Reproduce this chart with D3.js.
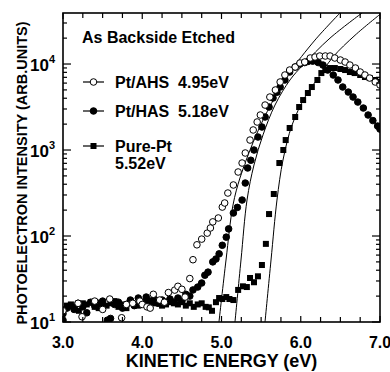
<!DOCTYPE html>
<html>
<head>
<meta charset="utf-8">
<script src="https://cdn.jsdelivr.net/npm/d3@7"></script>
<style>
  body { margin: 0; background: #fff; }
  svg { display: block; font-family: "Liberation Sans", Arial, sans-serif; }
  text { white-space: pre; }
</style>
</head>
<body>
<svg id="chart" width="390" height="372"></svg>
<script>
// measured points [energy eV, intensity]
const ahsPts = [[3.00,13.5],[3.19,16.5],[3.24,11.5],[3.40,17.5],[3.50,14],[3.59,18.5],[3.74,11.2],[3.80,16],[3.88,16.5],[3.97,17.5],[4.00,16],[4.06,15],[4.10,14.5],[4.14,21],[4.22,18],[4.28,17],[4.33,22],[4.41,23.5],[4.45,26],[4.50,24],[4.54,19.5],[4.60,32],[4.64,53],[4.69,79],[4.75,92],[4.82,108],[4.86,124],[4.89,146],[4.96,162],[5.01,217],[5.04,242],[5.08,316],[5.15,392],[5.21,555],[5.26,706],[5.30,923],[5.36,1306],[5.40,1710],[5.45,2117],[5.49,2553],[5.55,3334],[5.61,4130],[5.68,4985],[5.74,6180],[5.80,7450],[5.86,8510],[5.93,9230],[5.99,10270],[6.05,10550],[6.12,11750],[6.18,12060],[6.24,12390],[6.31,12390],[6.37,12390],[6.43,11750],[6.50,11130],[6.56,10550],[6.62,9730],[6.69,8980],[6.75,8070],[6.81,7450],[6.87,6870],[6.94,6180],[7.00,5700]];

const hasPts = [[3.00,10.5],[3.00,12.5],[3.05,14.5],[3.09,15.5],[3.14,14],[3.19,16.5],[3.25,15],[3.30,12.8],[3.35,17],[3.40,15.5],[3.45,16.5],[3.50,17.5],[3.56,10.5],[3.60,11],[3.65,16],[3.70,17],[3.75,14.5],[3.80,16],[3.85,18],[3.90,15.5],[3.95,19],[4.00,17],[4.05,19.5],[4.10,17.5],[4.15,18.5],[4.20,16.5],[4.25,18],[4.30,17],[4.35,18.5],[4.40,17],[4.45,19],[4.50,17.5],[4.55,21],[4.60,20],[4.64,23.6],[4.70,25.5],[4.75,28.4],[4.79,35],[4.83,38],[4.89,50],[4.93,54],[4.97,62],[5.01,78],[5.06,97],[5.09,121],[5.15,185],[5.20,215],[5.26,262],[5.30,413],[5.33,618],[5.37,760],[5.41,1000],[5.46,1416],[5.51,1851],[5.55,2420],[5.60,3162],[5.65,4026],[5.70,4700],[5.74,5400],[5.80,6520],[5.86,8070],[5.93,9230],[5.99,10000],[6.05,10400],[6.09,10700],[6.15,10800],[6.22,10400],[6.28,9730],[6.34,8510],[6.41,7450],[6.47,6520],[6.53,5400],[6.60,4720],[6.66,4130],[6.72,3610],[6.79,3077],[6.85,2553],[6.91,2200],[6.97,1900],[7.00,1750]];

const purePts = [[3.00,14],[3.05,15.5],[3.10,16],[3.15,15],[3.20,13.5],[3.25,16.5],[3.30,16],[3.35,17],[3.40,15],[3.45,14.5],[3.50,16],[3.55,15.5],[3.60,16.5],[3.65,17.5],[3.70,15],[3.75,16],[3.80,14.5],[3.85,17.5],[3.90,16],[3.95,15.5],[4.00,17],[4.05,17],[4.10,15],[4.15,16.5],[4.20,17.5],[4.25,15.5],[4.30,16],[4.35,17],[4.40,16.5],[4.45,16],[4.50,17],[4.55,15.5],[4.60,16.5],[4.65,15],[4.70,16],[4.75,16.5],[4.80,15],[4.84,14.8],[4.88,13.5],[4.93,17],[4.97,19],[5.01,18.5],[5.06,19.5],[5.10,18.5],[5.15,18],[5.21,23.6],[5.27,26],[5.32,25.5],[5.36,32.5],[5.41,29],[5.46,34],[5.51,46],[5.56,81],[5.60,180],[5.66,308],[5.73,706],[5.78,1000],[5.81,1306],[5.86,1803],[5.93,2420],[5.98,3162],[6.03,3810],[6.09,4600],[6.14,5400],[6.21,6520],[6.26,7850],[6.31,8510],[6.37,8980],[6.43,8980],[6.50,8750],[6.56,8510],[6.62,8070],[6.68,7850],[6.75,7450],[6.81,7060],[6.87,6870],[6.94,6520],[7.00,6180]];

// fitted curves
const fitAhs = [[4.968,10],[5.057,52.6],[5.145,229],[5.233,473],[5.360,1000],[5.524,2234],[5.738,5250],[5.864,8070],[6.180,19000],[6.495,39200]];
const fitHas = [[5.170,10],[5.246,52.6],[5.322,262],[5.410,670],[5.524,1500],[5.675,3334],[5.864,6520],[6.028,9730],[6.369,20000],[6.773,39200]];
const fitPure = [[5.549,10],[5.625,52.6],[5.700,262],[5.776,765],[5.890,1950],[6.054,4130],[6.218,6870],[6.407,12060],[6.685,21600],[7.000,37800]];

const legendLabels = [["Pt/AHS  4.95eV"], ["Pt/HAS  5.18eV"], ["Pure-Pt", "5.52eV"]];
const legendMarks = ["open", "filled", "square"];
const xTicks = [3, 4, 5, 6, 7];
const yDecades = [1, 2, 3, 4];

const svg = d3.select("#chart");
const mLeft = 63, mRight = 380, mTop = 13, mBottom = 322;

const x = d3.scaleLinear().domain([3, 7]).range([mLeft, mRight]);
const y = d3.scaleLog().domain([10, 39200]).range([mBottom, mTop]);

svg.append("clipPath").attr("id", "plotclip")
  .append("rect").attr("x", mLeft).attr("y", mTop)
  .attr("width", mRight - mLeft).attr("height", mBottom - mTop);

const plot = svg.append("g").attr("clip-path", "url(#plotclip)");

// fit lines
const line = d3.line().x(d => x(d[0])).y(d => y(d[1])).curve(d3.curveCatmullRom);
[fitAhs, fitHas, fitPure].forEach(f => {
  plot.append("path").attr("d", line(f))
    .attr("fill", "none").attr("stroke", "#000").attr("stroke-width", 1);
});

function drawMark(g, kind, cx, cy) {
  if (kind === "square") {
    g.append("rect").attr("x", cx - 3).attr("y", cy - 3)
      .attr("width", 6).attr("height", 6).attr("fill", "#000");
  } else {
    g.append("circle").attr("cx", cx).attr("cy", cy).attr("r", 3.3)
      .attr("fill", kind === "open" ? "#fff" : "#000")
      .attr("stroke", "#000").attr("stroke-width", 1);
  }
}

const markG = plot.append("g");
purePts.forEach(d => drawMark(markG, "square", x(d[0]), y(d[1])));
hasPts.forEach(d => drawMark(markG, "filled", x(d[0]), y(d[1])));
ahsPts.forEach(d => drawMark(markG, "open", x(d[0]), y(d[1])));

// frame
svg.append("rect").attr("x", mLeft).attr("y", mTop)
  .attr("width", mRight - mLeft).attr("height", mBottom - mTop)
  .attr("fill", "none").attr("stroke", "#000").attr("stroke-width", 1.6);

// x ticks, inward on bottom and top
const ticks = svg.append("g").attr("stroke", "#000").attr("stroke-width", 1.2);
d3.range(3, 7.001, 0.25).forEach(v => {
  const px = x(v);
  const len = Number.isInteger(v) ? 6 : 5;
  ticks.append("line").attr("x1", px).attr("x2", px).attr("y1", mBottom).attr("y2", mBottom - len);
  ticks.append("line").attr("x1", px).attr("x2", px).attr("y1", mTop).attr("y2", mTop + len);
});

// y ticks, log minors
y.ticks().forEach(v => {
  const py = y(v);
  const major = Math.abs(Math.log10(v) - Math.round(Math.log10(v))) < 1e-6;
  const len = major ? 8 : 4;
  ticks.append("line").attr("x1", mLeft).attr("x2", mLeft + len).attr("y1", py).attr("y2", py);
  ticks.append("line").attr("x1", mRight).attr("x2", mRight - len).attr("y1", py).attr("y2", py);
});

// x tick labels
svg.append("g").selectAll("text").data(xTicks).join("text")
  .attr("x", d => x(d)).attr("y", 348)
  .attr("text-anchor", "middle").attr("font-size", 16).attr("font-weight", "bold")
  .text(d => d.toFixed(1));

// y tick labels 10^n
const yl = svg.append("g").selectAll("text").data(yDecades).join("text")
  .attr("x", 55).attr("y", d => y(Math.pow(10, d)) + 7)
  .attr("text-anchor", "end").attr("font-size", 17).attr("font-weight", "bold");
yl.append("tspan").text("10");
yl.append("tspan").attr("font-size", 11).attr("dy", -8).text(d => d);

// axis titles
svg.append("text").attr("x", (mLeft + mRight) / 2).attr("y", 367)
  .attr("text-anchor", "middle").attr("font-size", 18).attr("font-weight", "bold")
  .text("KINETIC ENERGY (eV)");
svg.append("text").attr("transform", "translate(27,173) rotate(-90)")
  .attr("text-anchor", "middle").attr("font-size", 14.5).attr("font-weight", "bold")
  .text("PHOTOELECTRON INTENSITY (ARB.UNITS)");

// panel title
svg.append("text").attr("x", 82).attr("y", 43)
  .attr("font-size", 16).attr("font-weight", "bold").text("As Backside Etched");

// legend
const legendY = [82, 111, 146];
legendLabels.forEach((lab, i) => {
  const g = svg.append("g");
  const ly = legendY[i];
  g.append("line").attr("x1", 83).attr("x2", 104).attr("y1", ly).attr("y2", ly)
    .attr("stroke", "#000").attr("stroke-width", 1.2);
  drawMark(g, legendMarks[i], 93.5, ly);
  lab.forEach((t, j) => {
    g.append("text").attr("x", 115).attr("y", ly + 6 + j * 17)
      .attr("font-size", 16).attr("font-weight", "bold").text(t);
  });
});
</script>
</body>
</html>
